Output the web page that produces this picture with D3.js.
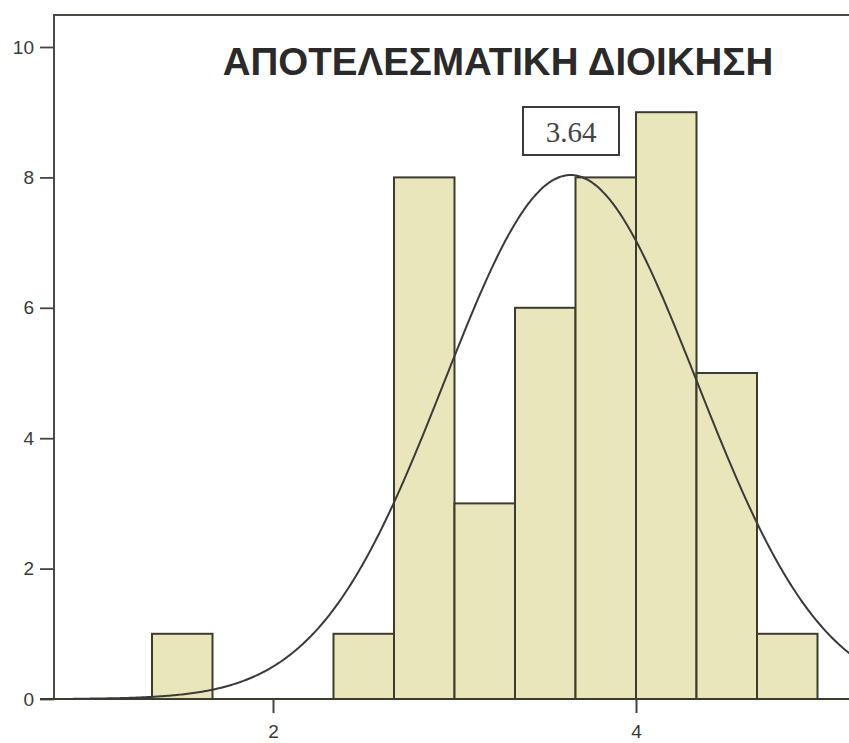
<!DOCTYPE html>
<html>
<head>
<meta charset="utf-8">
<script src="https://cdn.jsdelivr.net/npm/d3@7"></script>
<style>
  html, body { margin: 0; padding: 0; background: #fff; }
  svg { display: block; }
</style>
</head>
<body>
<svg id="chart" width="849" height="743"></svg>
<script>
// Histogram bins (lower edge, upper edge) and their counts
const binStarts = [1.3333, 2.3333, 2.6667, 3.0, 3.3333, 3.6667, 4.0, 4.3333, 4.6667];
const binEnds   = [1.6667, 2.6667, 3.0, 3.3333, 3.6667, 4.0, 4.3333, 4.6667, 5.0];
const counts    = [1, 1, 8, 3, 6, 8, 9, 5, 1];
const yTicks = [0, 2, 4, 6, 8, 10];
const xTicks = [2, 4];
const title = "ΑΠΟΤΕΛΕΣΜΑΤΙΚΗ ΔΙΟΙΚΗΣΗ";
const meanValue = 3.64;
const stdDev = 0.695;
const binWidth = 1 / 3;

const svg = d3.select("#chart");
const frameLeft = 54, frameTop = 15, baseY = 699;

const x = d3.scaleLinear().domain([2, 4]).range([273, 636]);
const y = d3.scaleLinear().domain([0, 10]).range([baseY, 47]);

const ink = "#3c3c2e";

// plot frame (top and left edges)
svg.append("path")
  .attr("d", `M${frameLeft},${baseY} V${frameTop} H849`)
  .attr("fill", "none").attr("stroke", "#4a4a44").attr("stroke-width", 2);

// bars
const bins = counts.map((c, i) => ({ x0: binStarts[i], x1: binEnds[i], n: c }));
svg.append("g").selectAll("rect").data(bins).join("rect")
  .attr("x", d => x(d.x0))
  .attr("y", d => y(d.n))
  .attr("width", d => x(d.x1) - x(d.x0))
  .attr("height", d => y(0) - y(d.n))
  .attr("fill", "#e9e6bb")
  .attr("stroke", ink)
  .attr("stroke-width", 2);

// y axis
const yAxis = d3.axisLeft(y).tickValues(yTicks).tickSize(14).tickPadding(6);
const gy = svg.append("g").attr("transform", `translate(${frameLeft},0)`).call(yAxis);
gy.select(".domain").remove();
gy.selectAll(".tick line").attr("stroke", "#444").attr("stroke-width", 1.8);
gy.selectAll(".tick text").attr("font-family", "Liberation Sans, Arial, sans-serif")
  .attr("font-size", 19).attr("fill", "#3a3a3a");

// x axis baseline and ticks
svg.append("line").attr("x1", 40).attr("x2", 849).attr("y1", baseY).attr("y2", baseY)
  .attr("stroke", ink).attr("stroke-width", 2);
const xAxis = d3.axisBottom(x).tickValues(xTicks).tickSize(14).tickPadding(12).tickFormat(d3.format("d"));
const gx = svg.append("g").attr("transform", `translate(0,${baseY})`).call(xAxis);
gx.select(".domain").remove();
gx.selectAll(".tick line").attr("stroke", "#444").attr("stroke-width", 2);
gx.selectAll(".tick text").attr("font-family", "Liberation Sans, Arial, sans-serif")
  .attr("font-size", 19).attr("fill", "#3a3a3a");

// normal curve scaled to the histogram
const total = d3.sum(counts);
const pdf = v => total * binWidth / (stdDev * Math.sqrt(2 * Math.PI)) *
  Math.exp(-0.5 * Math.pow((v - meanValue) / stdDev, 2));
const xs = d3.range(0.9, 5.3, 0.01);
svg.append("path")
  .datum(xs)
  .attr("d", d3.line().x(v => x(v)).y(v => y(pdf(v))).curve(d3.curveBasis))
  .attr("fill", "none").attr("stroke", "#3a3a3a").attr("stroke-width", 2);

// title
svg.append("text")
  .attr("x", 498).attr("y", 75)
  .attr("text-anchor", "middle")
  .attr("font-family", "Liberation Sans, Arial, sans-serif")
  .attr("font-weight", "bold")
  .attr("font-size", 38.5)
  .attr("fill", "#2a2a2a")
  .text(title);

// mean label box
svg.append("rect").attr("x", 523).attr("y", 107).attr("width", 96).attr("height", 48)
  .attr("fill", "#fff").attr("stroke", "#3a3a3a").attr("stroke-width", 2);
svg.append("text").attr("x", 571).attr("y", 142).attr("text-anchor", "middle")
  .attr("font-family", "Liberation Serif, Times New Roman, serif")
  .attr("font-size", 29).attr("fill", "#444")
  .text(meanValue.toFixed(2));
</script>
</body>
</html>
